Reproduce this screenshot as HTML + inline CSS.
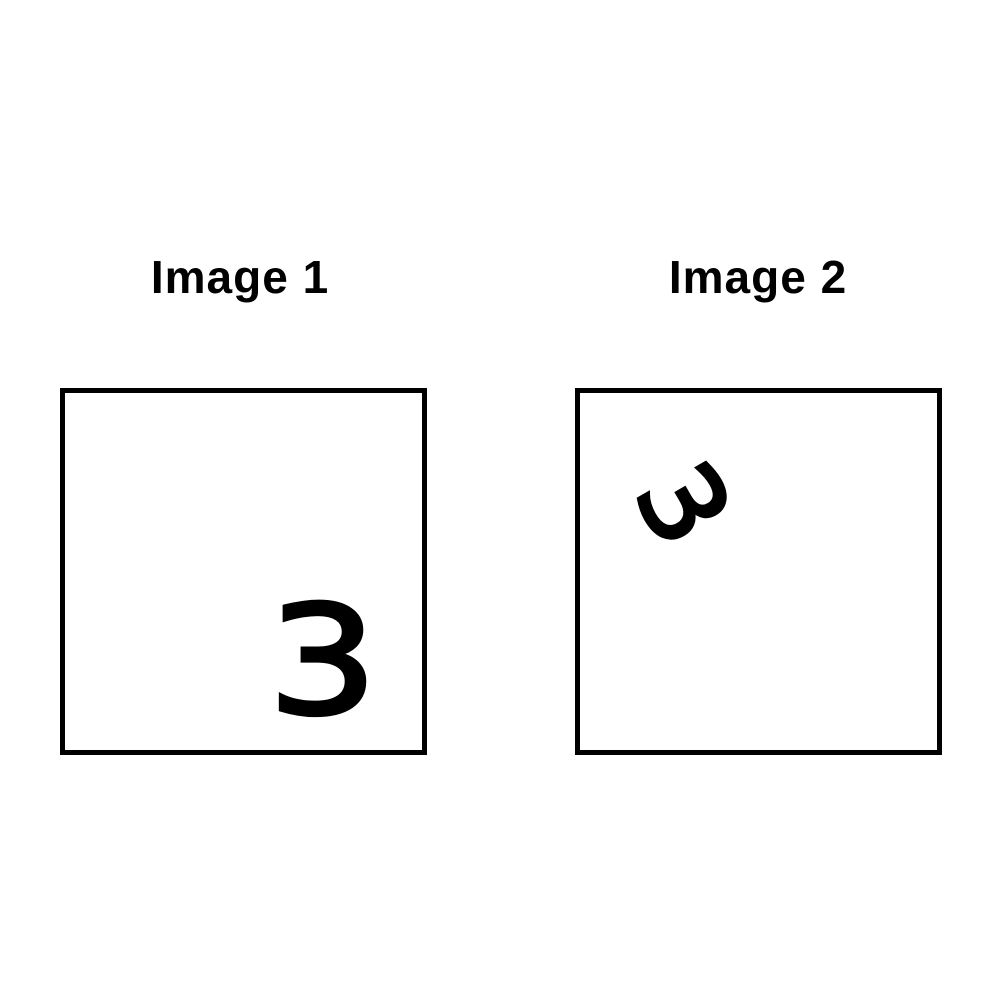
<!DOCTYPE html>
<html><head><meta charset="utf-8"><style>
html,body{margin:0;padding:0;background:#fff;}
body{width:1001px;height:1000px;position:relative;overflow:hidden;font-family:"Liberation Sans",sans-serif;}
.title{position:absolute;top:250px;width:300px;text-align:center;font-weight:bold;font-size:46px;letter-spacing:1px;color:#000;}
.box{position:absolute;top:388px;width:357px;height:357px;border:5px solid #000;}
.digit{position:absolute;font-family:"DejaVu Sans","Liberation Sans",sans-serif;color:#000;-webkit-text-stroke:4px #000;line-height:1;}
</style></head><body>
<div class="title" style="left:90px;">Image 1</div>
<div class="title" style="left:608px;">Image 2</div>
<div class="box" style="left:60px;">
  <div class="digit" style="left:203px;top:194px;font-size:150px;transform:scaleX(1.15);transform-origin:0 0;">3</div>
</div>
<div class="box" style="left:575px;">
  <div class="digit" style="left:68px;top:56px;font-size:110px;transform:rotate(60deg);transform-origin:50% 50%;">3</div>
</div>
</body></html>
